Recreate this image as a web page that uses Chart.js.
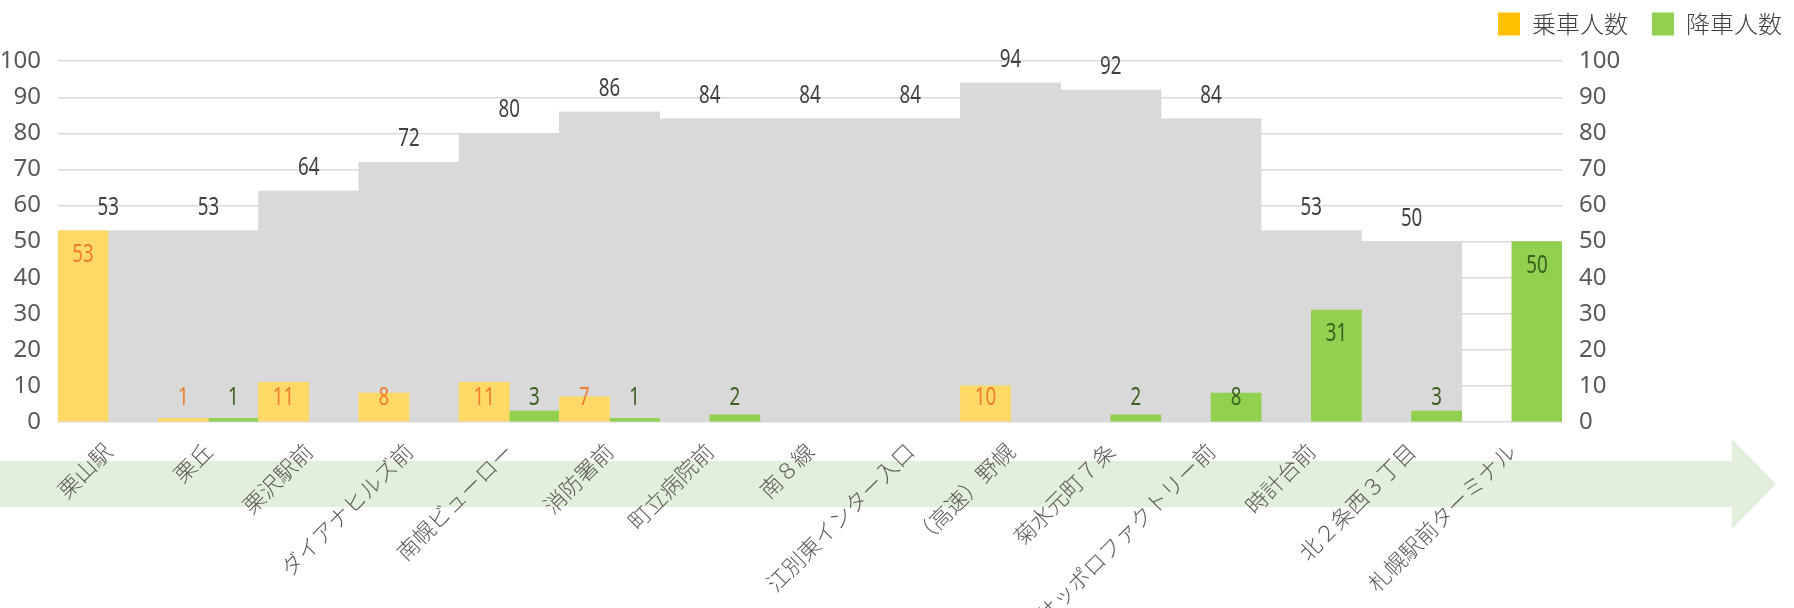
<!DOCTYPE html>
<html lang="ja">
<head>
<meta charset="utf-8">
<script src="https://cdn.jsdelivr.net/npm/chart.js@4"></script>
<style>
  html, body { margin: 0; padding: 0; background: #fff; }
  #wrap { width: 1794px; height: 608px; }
</style>
</head>
<body>
<div id="wrap"><canvas id="myChart" width="1794" height="608"></canvas></div>
<script>
// バス停ごとの乗降人数
const stops = ['栗山駅', '栗丘', '栗沢駅前', 'ダイアナヒルズ前', '南幌ビューロー', '消防署前', '町立病院前', '南８線',
  '江別東インター入口', '（高速）野幌', '菊水元町７条', 'サッポロファクトリー前', '時計台前', '北２条西３丁目', '札幌駅前ターミナル'];
const boarding = [53, 1, 11, 8, 11, 7, 0, 0, 0, 10, 0, 0, 0, 0, 0];
const alighting = [0, 1, 0, 0, 3, 1, 2, 0, 0, 0, 2, 8, 31, 3, 50];
const onBoard = [53, 53, 64, 72, 80, 86, 84, 84, 84, 94, 92, 84, 53, 50, 0];
const yMin = 0, yMax = 100, yStep = 10;

const numFont = "'Noto Sans', 'Liberation Sans', sans-serif";
const jpFont = "'Noto Sans CJK JP', sans-serif";

// 背景の矢印
const arrowBg = {
  id: 'arrowBg',
  beforeDraw(chart) {
    const c = chart.ctx;
    const b = chart.chartArea.bottom;
    const w = chart.width;
    c.save();
    c.fillStyle = '#E2EFDA';
    c.beginPath();
    c.moveTo(0, b + 39);
    c.lineTo(w - 62, b + 39);
    c.lineTo(w - 62, b + 17);
    c.lineTo(w - 18, b + 62);
    c.lineTo(w - 62, b + 107);
    c.lineTo(w - 62, b + 85);
    c.lineTo(0, b + 85);
    c.closePath();
    c.fill();
    c.restore();
  }
};

// 数値ラベル（横に少し詰める）
const valueLabels = {
  id: 'valueLabels',
  afterDatasetsDraw(chart) {
    const c = chart.ctx;
    const base = chart.scales.y.getPixelForValue(0);
    chart.data.datasets.forEach((ds, i) => {
      const meta = chart.getDatasetMeta(i);
      meta.data.forEach((bar, j) => {
        const v = ds.data[j];
        if (!v) return;
        let y;
        if (ds.labelPos === 'top') y = bar.y - 16;
        else y = Math.min(bar.y + 31, base - 17);
        c.save();
        c.font = '25px ' + numFont;
        c.textAlign = 'center';
        c.textBaseline = 'alphabetic';
        c.fillStyle = ds.labelColor;
        c.translate(bar.x, y);
        c.scale(0.75, 1);
        c.fillText(v, 0, 0);
        c.restore();
      });
    });
  }
};

const tickFont = { family: numFont, size: 24 };
const hideZero = color => ctx => (ctx.raw ? color : 'rgba(0,0,0,0)');

const chart = new Chart(document.getElementById('myChart').getContext('2d'), {
  type: 'bar',
  data: {
    labels: stops,
    datasets: [{
      label: '乗車人数',
      data: boarding,
      backgroundColor: hideZero('#FFD966'),
      order: 1,
      categoryPercentage: 1,
      barPercentage: 1,
      labelColor: '#EF7D2E'
    }, {
      label: '降車人数',
      data: alighting,
      backgroundColor: hideZero('#92D050'),
      order: 1,
      categoryPercentage: 1,
      barPercentage: 1,
      labelColor: '#3A5F1E'
    }, {
      label: '乗車中',
      data: onBoard,
      backgroundColor: hideZero('#D9D9D9'),
      grouped: false,
      order: 2,
      categoryPercentage: 1,
      barPercentage: 1,
      labelColor: '#404040',
      labelPos: 'top'
    }]
  },
  options: {
    responsive: false,
    animation: false,
    layout: { padding: 0 },
    plugins: {
      tooltip: { enabled: false },
      legend: {
        position: 'top',
        align: 'end',
        labels: {
          boxWidth: 22,
          boxHeight: 23,
          padding: 12,
          color: '#404040',
          font: { family: jpFont, size: 24, weight: 300 },
          generateLabels(chart) {
            const items = Chart.defaults.plugins.legend.labels.generateLabels(chart);
            return items.filter(it => it.datasetIndex < 2).map(it => {
              if (it.datasetIndex === 0) {
                it.fillStyle = '#FFC000';
                it.text += '\u2002';
              } else {
                it.fillStyle = '#92D050';
              }
              it.lineWidth = 0;
              it.strokeStyle = 'rgba(0,0,0,0)';
              return it;
            });
          }
        }
      },
      // 凡例とグラフの間の余白
      subtitle: {
        display: true,
        text: '',
        weight: 500,
        font: { size: 1 },
        padding: { top: 14, bottom: 0 }
      }
    },
    scales: {
      x: {
        offset: true,
        grid: { display: false },
        border: { display: false },
        ticks: {
          autoSkip: false,
          maxRotation: 45,
          minRotation: 45,
          padding: 8,
          color: '#595959',
          font: { family: jpFont, size: 22, weight: 300 }
        },
        afterFit(s) { s.height = 186; }
      },
      y: {
        position: 'left',
        min: yMin,
        max: yMax,
        grid: { color: '#D9D9D9', lineWidth: 1.5, drawTicks: false },
        border: { display: false },
        ticks: { stepSize: yStep, padding: 17, color: '#595959', font: tickFont },
        afterFit(s) { s.width = 58; }
      },
      y2: {
        position: 'right',
        min: yMin,
        max: yMax,
        grid: { display: false, drawTicks: false },
        border: { display: false },
        ticks: { stepSize: yStep, padding: 17, color: '#595959', font: tickFont },
        afterFit(s) { s.width = 232; }
      }
    }
  },
  plugins: [arrowBg, valueLabels]
});
</script>
</body>
</html>
